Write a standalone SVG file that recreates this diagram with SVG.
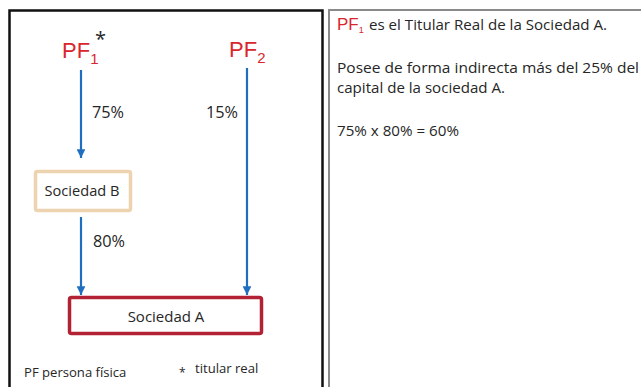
<svg xmlns="http://www.w3.org/2000/svg" width="641" height="387" viewBox="0 0 641 387">
<style>
.t{font-family:"Open Sans","DejaVu Sans",sans-serif;fill:#262626}
.pf{font-family:"Liberation Sans",Arial,sans-serif;fill:#D9262E}
.c{stroke:#1F6EC0;stroke-width:2.2;fill:none}
</style>
<defs>
<marker id="ah" viewBox="0 0 10 10" refX="10" refY="5" markerWidth="4" markerHeight="4" orient="auto" markerUnits="strokeWidth">
<path d="M0,0 L10,5 L0,10 z" fill="#1F6EC0"/>
</marker>
</defs>
<rect width="641" height="387" fill="#fff"/>
<rect x="9.5" y="10.5" width="313" height="400" fill="none" stroke="#111" stroke-width="2.5"/>
<rect x="329" y="10" width="330" height="400" fill="none" stroke="#8a8a8a" stroke-width="2"/>

<g id="pf1">
<text class="pf" x="62" y="58" font-size="22">PF<tspan font-size="15" dy="6">1</tspan></text>
<text class="t" x="95" y="46" font-size="20" fill="#222">*</text>
</g>
<g id="pf2">
<text class="pf" x="229" y="57" font-size="22">PF<tspan font-size="15" dy="6">2</tspan></text>
</g>
<g id="sociedadB">
<rect x="35.5" y="171.5" width="95" height="39" rx="2" fill="#fff" stroke="#EDD3B0" stroke-width="3.5"/>
<text class="t" x="82" y="196" font-size="14.6" text-anchor="middle">Sociedad B</text>
</g>
<g id="sociedadA">
<rect x="69.5" y="297.5" width="192" height="36" rx="2" fill="#fff" stroke="#B22234" stroke-width="3.5"/>
<text class="t" x="166" y="322" font-size="15" text-anchor="middle">Sociedad A</text>
</g>
<g id="connectors">
<line class="c" x1="81" y1="70" x2="81" y2="158" marker-end="url(#ah)"/>
<line class="c" x1="81" y1="217" x2="81" y2="295" marker-end="url(#ah)"/>
<line class="c" x1="247" y1="68" x2="247" y2="295" marker-end="url(#ah)"/>
<text class="t" x="92" y="118" font-size="16.3">75%</text>
<text class="t" x="206" y="118" font-size="16.3">15%</text>
<text class="t" x="93" y="247" font-size="16.3">80%</text>
</g>
<g id="legend">
<text class="t" x="24" y="377" font-size="13.1">PF persona física</text>
<text class="t" x="179" y="377" font-size="12">*</text>
<text class="t" x="195" y="373" font-size="13.1">titular real</text>
</g>
<g id="explanation">
<text class="pf" x="337" y="30" font-size="17">PF<tspan font-size="9" dy="3">1</tspan></text>
<text class="t" x="369" y="30" font-size="15" textLength="238" lengthAdjust="spacingAndGlyphs">es el Titular Real de la Sociedad A.</text>
<text class="t" x="337" y="73" font-size="15" textLength="302" lengthAdjust="spacingAndGlyphs">Posee de forma indirecta más del 25% del</text>
<text class="t" x="337" y="93" font-size="15" textLength="168" lengthAdjust="spacingAndGlyphs">capital de la sociedad A.</text>
<text class="t" x="337" y="136" font-size="15" textLength="122" lengthAdjust="spacingAndGlyphs">75% x 80% = 60%</text>
</g>
</svg>
